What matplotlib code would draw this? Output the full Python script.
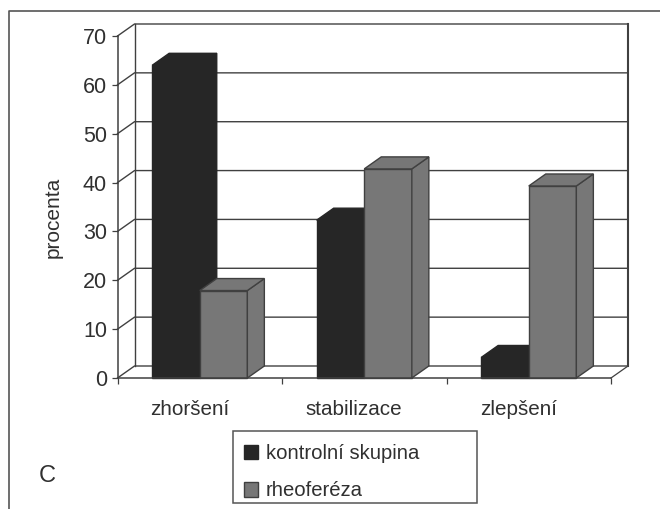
import matplotlib
matplotlib.use('Agg')
import matplotlib.pyplot as plt
from matplotlib.lines import Line2D
from matplotlib.patches import Patch, Polygon, Rectangle

plt.rcParams['font.family'] = ['Liberation Sans', 'DejaVu Sans']

#### DATA ####

categories = ['zhoršení', 'stabilizace', 'zlepšení']
kontrolni = [64, 32.3, 4.2]
rheofereza = [17.9, 42.8, 39.3]
series_names = ['kontrolní skupina', 'rheoferéza']
y_ticks = [0, 10, 20, 30, 40, 50, 60, 70]

DARK = '#262626'
GRAY = '#777777'
LINE = '#404040'
TEXT = '#303030'

W, H = 660, 509
fig = plt.figure(figsize=(W / 100, H / 100), dpi=100)
fig.patch.set_facecolor('white')

# front plane of the fake 3d box, in pixels
ax = fig.add_axes([117.5 / W, (H - 378) / H, 493.5 / W, 342 / H])
ax.set_xlim(0, 3)
ax.set_ylim(0, 70)
ax.patch.set_alpha(0)

# depth offset in data units (17 px right, 12 px up)
dx = 17 / (493.5 / 3)
dy = 12 / (342 / 70)
bar_w = 47.6 / (493.5 / 3)

#### BACK WALLS ####

for v in y_ticks:
    ax.plot([0, dx, 3 + dx], [v, v + dy, v + dy], color=LINE, lw=1.0,
            clip_on=False, zorder=1, solid_joinstyle='miter')
ax.plot([dx, dx], [dy, 70 + dy], color=LINE, lw=1.0, clip_on=False, zorder=1)
ax.plot([3 + dx, 3 + dx], [dy, 70 + dy], color=LINE, lw=1.5, clip_on=False, zorder=1)
ax.plot([3, 3 + dx], [0, dy], color=LINE, lw=0.9, clip_on=False, zorder=1)


#### BARS ####

def bar3d(x0, value, color, edge, z):
    x1 = x0 + bar_w
    ax.bar(x0, value, bar_w, align='edge', color=color, edgecolor=edge, lw=1.0,
           clip_on=False, zorder=z)
    top = [(x0, value), (x0 + dx, value + dy), (x1 + dx, value + dy), (x1, value)]
    side = [(x1, 0), (x1 + dx, dy), (x1 + dx, value + dy), (x1, value)]
    ax.add_patch(Polygon(side, closed=True, fc=color, ec=edge, lw=1.0, clip_on=False, zorder=z))
    ax.add_patch(Polygon(top, closed=True, fc=color, ec=edge, lw=1.0, clip_on=False, zorder=z))


for i in range(len(categories)):
    centre = i + 0.5
    bar3d(centre - bar_w, kontrolni[i], DARK, DARK, 3 + i)
    bar3d(centre, rheofereza[i], GRAY, LINE, 3.5 + i)

#### AXES ####

for s in ['top', 'right']:
    ax.spines[s].set_visible(False)
for s in ['left', 'bottom']:
    ax.spines[s].set_color(LINE)
    ax.spines[s].set_linewidth(1.1)
    ax.spines[s].set_zorder(10)

ax.set_yticks(y_ticks)
ax.set_xticks([0, 1, 2, 3])
ax.set_xticklabels([])
# labels sit a little left of the group centres in the original
ax.set_xticks([0.44, 1.435, 2.44], labels=categories, minor=True)
ax.tick_params(axis='both', which='major', length=4.5, width=0.9, color=LINE)
ax.tick_params(axis='y', labelsize=15.5, labelcolor=TEXT, pad=3)
ax.tick_params(axis='x', which='minor', length=0, labelsize=14.9, labelcolor=TEXT, pad=16)

fig.text(53 / W, 1 - 217 / H, 'procenta', rotation=90, fontsize=15, color=TEXT,
         ha='center', va='center')
fig.text(47 / W, 1 - 476 / H, 'C', fontsize=17, color=TEXT, ha='center', va='center')

#### FRAME AND LEGEND ####

fig.add_artist(Line2D([8.5 / W, 8.5 / W, 1], [0, 1 - 11 / H, 1 - 11 / H], color='#555555', lw=1.2))
fig.add_artist(Rectangle((233.5 / W, 1 - 503 / H), 243.5 / W, 72 / H, transform=fig.transFigure,
                         fc='white', ec='#555555', lw=1.1))

handles = [Patch(fc=DARK, ec=DARK), Patch(fc=GRAY, ec=LINE)]
fig.legend(handles, series_names, loc='upper left', bbox_to_anchor=(232.5 / W, 1 - 433 / H),
           frameon=False, fontsize=14.6, labelcolor=TEXT, handlelength=0.72, handleheight=0.72,
           handletextpad=0.36, labelspacing=0.9, borderaxespad=0, borderpad=0.55)

fig.savefig('out.png', dpi=100)
